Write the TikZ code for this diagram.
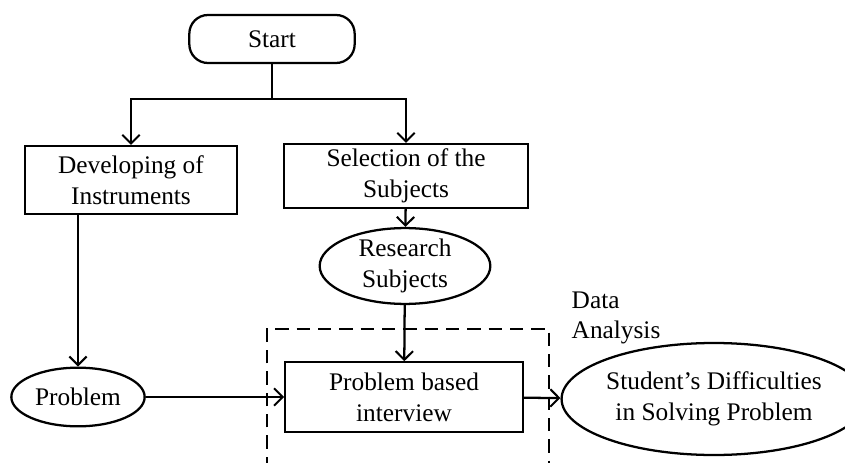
\documentclass[tikz,border=0pt]{standalone}
\usepackage{fontspec}
\setmainfont{Liberation Serif}
\usetikzlibrary{arrows.meta,shapes.geometric,positioning,calc}
\tikzset{
  flowbox/.style ={draw, line width=1.7pt, minimum width=#1, minimum height=51pt,
                   align=center, inner sep=2pt},
  flowell/.style ={draw, line width=1.7pt, ellipse, align=center, inner sep=0pt},
  arrflow/.style ={-{Straight Barb[length=6.5pt,width=13pt,line width=1.5pt]}, line width=1.7pt},
  lineflow/.style={line width=1.7pt},
}

\begin{document}
\begin{tikzpicture}[x=0.75pt, y=-0.75pt,
  font=\fontsize{19}{23}\selectfont,
  startbox/.style={draw, line width=1.7pt, rounded corners=14pt,
                   minimum width=124pt, minimum height=36pt},
  dashbox/.style={line width=1.7pt, dash pattern=on 10pt off 6pt}
]
\useasboundingbox (0,0) rectangle (845,463);

%% Top of the flow
\node[startbox] (start) at (272,39) {Start};
\coordinate (split) at (272,99);

\node[flowbox=159pt, minimum height=51pt] (dev) at (131,180) {Developing of\\Instruments};
\node[flowbox=183pt, minimum height=48pt] (sel) at (406,176) {Selection of the\\Subjects};

%% Middle and bottom
\node[flowell, minimum width=128pt, minimum height=55pt] (subj) at (405,266) {Research\\Subjects};
\node[flowell, minimum width=100pt, minimum height=44pt] (prob) at (78,397) {Problem};
\node[flowbox=178pt, minimum height=52pt] (pbi) at (404,397) {Problem based\\interview};
\node[flowell, minimum width=194pt, minimum height=84pt] (diff) at (714,399)
  {Student's Difficulties\\in Solving Problem};

\node[align=left, anchor=north west] (ana) at (567,287) {Data\\Analysis};

%% Connectors
\draw[lineflow] (start) -- (split);
\draw[arrflow] (split) -| (dev);
\draw[arrflow] (split) -| (sel);
\draw[arrflow] (sel) -- (subj);
\draw[arrflow] (subj) -- (pbi);
\draw[arrflow] (dev.south -| prob) -- (prob);
\draw[arrflow] (prob) -- (pbi);
\draw[arrflow] (pbi) -- (diff);

%% Data analysis frame, open below
\draw[dashbox] (267,470) -- (267,329) -- (549,329) -- (549,470);

\end{tikzpicture}
\end{document}
